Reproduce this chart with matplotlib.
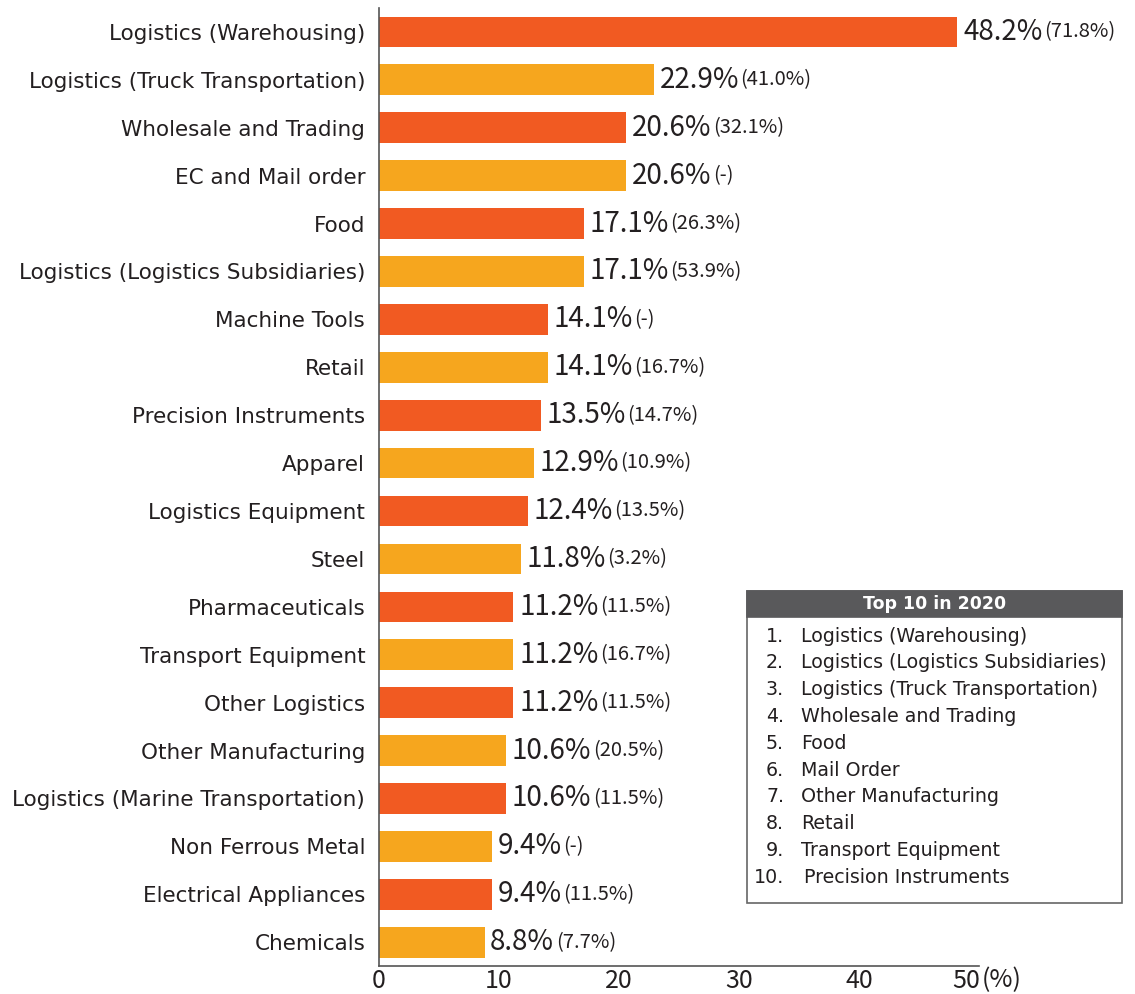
import matplotlib.pyplot as plt
from matplotlib.patches import Rectangle
from matplotlib.transforms import blended_transform_factory

# data
categories = ['Logistics (Warehousing)', 'Logistics (Truck Transportation)', 'Wholesale and Trading',
              'EC and Mail order', 'Food', 'Logistics (Logistics Subsidiaries)', 'Machine Tools',
              'Retail', 'Precision Instruments', 'Apparel', 'Logistics Equipment', 'Steel',
              'Pharmaceuticals', 'Transport Equipment', 'Other Logistics', 'Other Manufacturing',
              'Logistics (Marine Transportation)', 'Non Ferrous Metal', 'Electrical Appliances',
              'Chemicals']
values_2021 = [48.2, 22.9, 20.6, 20.6, 17.1, 17.1, 14.1, 14.1, 13.5, 12.9, 12.4, 11.8,
               11.2, 11.2, 11.2, 10.6, 10.6, 9.4, 9.4, 8.8]
values_2020 = [71.8, 41.0, 32.1, None, 26.3, 53.9, None, 16.7, 14.7, 10.9, 13.5, 3.2,
               11.5, 16.7, 11.5, 20.5, 11.5, None, 11.5, 7.7]
top10_2020 = ['Logistics (Warehousing)', 'Logistics (Logistics Subsidiaries)',
              'Logistics (Truck Transportation)', 'Wholesale and Trading', 'Food', 'Mail Order',
              'Other Manufacturing', 'Retail', 'Transport Equipment', 'Precision Instruments']
x_ticks = [0, 10, 20, 30, 40, 50]

red = '#F15A22'
yellow = '#F6A61E'
txt = '#231F20'
jp = ['Noto Sans CJK JP', 'DejaVu Sans']

plt.rcParams['font.family'] = ['DejaVu Sans']

fig = plt.figure(figsize=(11.35, 9.94), dpi=100)
ax = fig.add_axes([0.334, 0.028, 0.5286, 0.964])

ypos = list(range(len(categories)))
colors = [red if i % 2 == 0 else yellow for i in ypos]
ax.barh(ypos, values_2021, height=0.64, color=colors)
ax.set_ylim(len(categories) - 0.5, -0.5)
ax.set_xlim(0, 50)

ax.set_yticks(ypos)
ax.set_yticklabels(categories, fontsize=15.5, color=txt)
ax.set_xticks(x_ticks)
ax.set_xticklabels([str(t) for t in x_ticks[:-1]] + [''], fontsize=18, color=txt,
                   family=jp)
ax.tick_params(length=0)
ax.tick_params(axis='x', pad=1)
ax.tick_params(axis='y', pad=10)
for s in ['top', 'right']:
    ax.spines[s].set_visible(False)
for s in ['left', 'bottom']:
    ax.spines[s].set_color('#555555')
    ax.spines[s].set_linewidth(1.2)

# last tick label with unit
tr = blended_transform_factory(ax.transData, ax.transAxes)
ax.annotate('50', xy=(50, 0), xycoords=tr, xytext=(1, -1), textcoords='offset points',
            fontsize=18, color=txt, family=jp, ha='right', va='top')
ax.annotate('(%)', xy=(50, 0), xycoords=tr, xytext=(2, -1), textcoords='offset points',
            fontsize=18, color=txt, family=jp, ha='left', va='top')

# value labels: big 2021 value then smaller 2020 value in brackets
for y, v, p in zip(ypos, values_2021, values_2020):
    t = ax.annotate(f'{v:.1f}%', xy=(v, y), xytext=(4, 0), textcoords='offset points',
                    fontsize=20, color=txt, va='center', ha='left', family=jp)
    small = '(-)' if p is None else f'({p:.1f}%)'
    ax.annotate(small, xy=(1, 0.5), xycoords=t, xytext=(1, 0), textcoords='offset points',
                fontsize=14.5, color=txt, va='center', ha='left', family=jp)

# Top 10 in 2020 box
bx0, by0, bw, bh = 747 / 1135, 1 - 903 / 994, 375 / 1135, 312 / 994
fig.patches.append(Rectangle((bx0, by0), bw, bh, transform=fig.transFigure,
                             facecolor='white', edgecolor='#666666', linewidth=1.2))
hh = 26 / 994
fig.patches.append(Rectangle((bx0, by0 + bh - hh), bw, hh, transform=fig.transFigure,
                             facecolor='#59595B', edgecolor='#59595B', linewidth=1.2))
fig.text(bx0 + bw / 2, by0 + bh - hh / 2, 'Top 10 in 2020', color='white',
         fontsize=12.5, fontweight='bold', ha='center', va='center')
for i, name in enumerate(top10_2020):
    yy = 1 - (636 + i * 26.8) / 994
    fig.text(784 / 1135, yy, f'{i + 1}.', fontsize=13.7, color=txt, ha='right', va='center')
    fig.text((801 if i < 9 else 804) / 1135, yy, name, fontsize=13.7, color=txt,
             ha='left', va='center')

plt.savefig('out.png', dpi=100)
